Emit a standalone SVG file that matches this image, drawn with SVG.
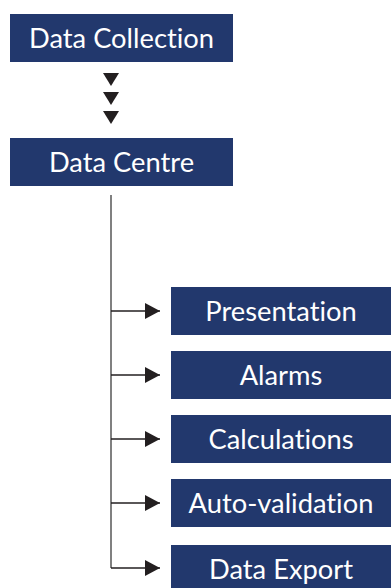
<svg xmlns="http://www.w3.org/2000/svg" width="391" height="588" viewBox="0 0 391 588">
<defs>
<style>
.box{fill:#22386d}
.lbl{fill:#ffffff;font-family:Lato,"Open Sans","Liberation Sans",sans-serif;font-size:27.3px;text-anchor:middle;font-variant-ligatures:none;font-feature-settings:"liga" 0,"dlig" 0}
.tri{fill:#231f20}
.hl{stroke:#231f20;stroke-width:1.5;fill:none}
.vl{stroke:#808080;stroke-width:2;fill:none}
</style>
<marker id="ah" markerUnits="userSpaceOnUse" markerWidth="16" markerHeight="16" refX="15" refY="8" orient="auto">
<path d="M0,0 L15,8 L0,16 Z" fill="#231f20"/>
</marker>
</defs>
<rect width="391" height="588" fill="#ffffff"/>
<g id="connectors">
<path class="tri" d="M103,73 L119,73 L111,86 Z"/>
<path class="tri" d="M103,92 L119,92 L111,105 Z"/>
<path class="tri" d="M103,111 L119,111 L111,124 Z"/>
<path class="vl" d="M111,195 V568"/>
<path class="hl" d="M111,311 H160" marker-end="url(#ah)"/>
<path class="hl" d="M111,375 H160" marker-end="url(#ah)"/>
<path class="hl" d="M111,439 H160" marker-end="url(#ah)"/>
<path class="hl" d="M111,503 H160" marker-end="url(#ah)"/>
<path class="hl" d="M111,568 H160" marker-end="url(#ah)"/>
</g>
<g id="data-collection">
<rect class="box" x="10" y="14" width="223" height="48"/>
<text class="lbl" x="121.5" y="48">Data Collection</text>
</g>
<g id="data-centre">
<rect class="box" x="10" y="138" width="223" height="48"/>
<text class="lbl" x="121.5" y="172">Data Centre</text>
</g>
<g id="presentation">
<rect class="box" x="171" y="287" width="220" height="48"/>
<text class="lbl" x="281" y="321">Presentation</text>
</g>
<g id="alarms">
<rect class="box" x="171" y="351" width="220" height="48"/>
<text class="lbl" x="281" y="385">Alarms</text>
</g>
<g id="calculations">
<rect class="box" x="171" y="415" width="220" height="48"/>
<text class="lbl" x="281" y="449">Calculations</text>
</g>
<g id="auto-validation">
<rect class="box" x="171" y="479" width="220" height="48"/>
<text class="lbl" x="281" y="513">Auto-validation</text>
</g>
<g id="data-export">
<rect class="box" x="171" y="545" width="220" height="48"/>
<text class="lbl" x="281" y="579">Data Export</text>
</g>
</svg>
